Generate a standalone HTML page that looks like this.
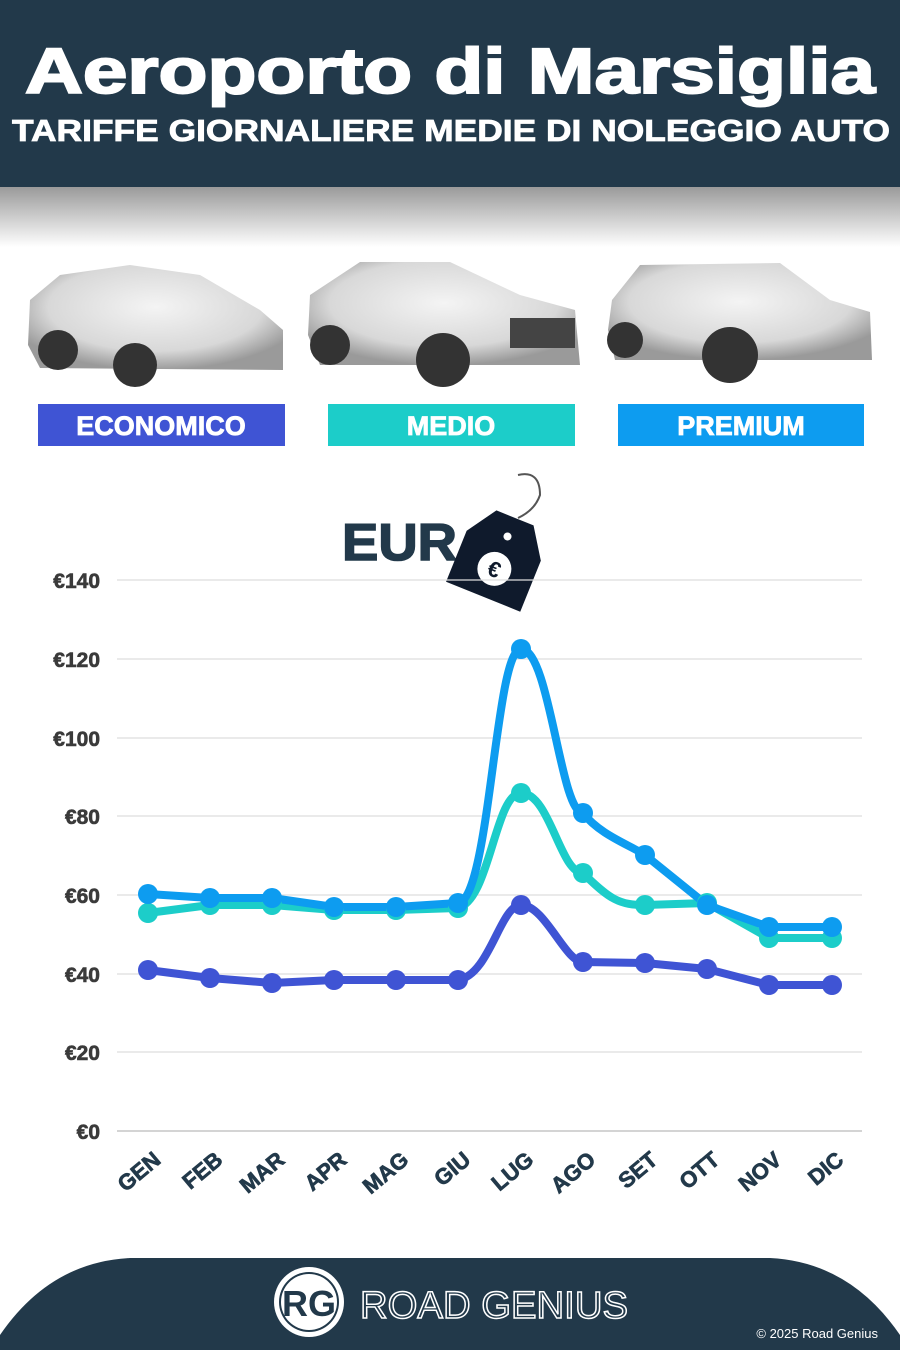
<!DOCTYPE html>
<html><head><meta charset="utf-8"><style>
body{margin:0;width:900px;height:1350px;overflow:hidden;background:#fff;font-family:"Liberation Sans",sans-serif}
</style></head><body>
<svg width="900" height="1350" viewBox="0 0 900 1350" xmlns="http://www.w3.org/2000/svg">
<defs>
<linearGradient id="sh" x1="0" y1="0" x2="0" y2="1"><stop offset="0" stop-color="#9a9a9a"/><stop offset="1" stop-color="#fff"/></linearGradient>
<radialGradient id="car" cx="0.5" cy="0.4" r="0.6"><stop offset="0" stop-color="#f4f4f4"/><stop offset="0.7" stop-color="#d8d8d8"/><stop offset="1" stop-color="#9a9a9a"/></radialGradient>
</defs>
<rect x="0" y="0" width="900" height="187" fill="#22394a"/>
<rect x="0" y="187" width="900" height="60" fill="url(#sh)"/>
<text x="25" y="93" textLength="850" lengthAdjust="spacingAndGlyphs" font-size="64" font-weight="bold" fill="#fff" stroke="#fff" stroke-width="2">Aeroporto di Marsiglia</text>
<text x="12" y="141" textLength="878" lengthAdjust="spacingAndGlyphs" font-size="31" font-weight="bold" fill="#fff" stroke="#fff" stroke-width="0.8">TARIFFE GIORNALIERE MEDIE DI NOLEGGIO AUTO</text>
<!-- cars -->
<g>
<path d="M30 300 L60 275 L130 265 L200 275 L260 310 L283 330 L283 370 L40 368 L28 345 Z" fill="url(#car)"/>
<circle cx="58" cy="350" r="20" fill="#333"/><circle cx="135" cy="365" r="22" fill="#333"/>
<path d="M310 295 L360 262 L450 262 L520 295 L575 310 L580 365 L320 365 L308 335 Z" fill="url(#car)"/>
<circle cx="330" cy="345" r="20" fill="#333"/><circle cx="443" cy="360" r="27" fill="#333"/><rect x="510" y="318" width="65" height="30" fill="#444"/>
<path d="M612 300 L640 265 L780 263 L830 300 L870 312 L872 360 L615 360 L608 330 Z" fill="url(#car)"/>
<circle cx="625" cy="340" r="18" fill="#333"/><circle cx="730" cy="355" r="28" fill="#333"/>
</g>
<rect x="38" y="404" width="247" height="42" fill="#3f54d4"/>
<text x="161" y="435" text-anchor="middle" font-size="27" font-weight="bold" fill="#fff" stroke="#fff" stroke-width="0.8">ECONOMICO</text>
<rect x="328" y="404" width="247" height="42" fill="#1ccdc9"/>
<text x="451" y="435" text-anchor="middle" font-size="27" font-weight="bold" fill="#fff" stroke="#fff" stroke-width="0.8">MEDIO</text>
<rect x="618" y="404" width="246" height="42" fill="#0d9cf0"/>
<text x="741" y="435" text-anchor="middle" font-size="27" font-weight="bold" fill="#fff" stroke="#fff" stroke-width="0.8">PREMIUM</text>
<!-- EUR tag -->
<text x="342" y="560" textLength="115" lengthAdjust="spacingAndGlyphs" font-size="52" font-weight="bold" fill="#22394a" stroke="#22394a" stroke-width="1.5">EUR</text>
<path d="M518 475 Q540 470 540 495 Q535 510 518 518" fill="none" stroke="#555" stroke-width="2"/>
<g transform="rotate(22 500 555)"><path d="M480 515 L520 515 L540 545 L540 600 L460 600 L460 545 Z" fill="#0f1a2c"/><circle cx="500" cy="535" r="4" fill="#fff"/><circle cx="500" cy="570" r="17" fill="#fff"/><text x="500" y="578" text-anchor="middle" font-size="22" font-weight="bold" fill="#0f1a2c">€</text></g>
<!-- grid -->
<g stroke="#ddd" stroke-width="1.2">
<line x1="117" x2="862" y1="580" y2="580"/><line x1="117" x2="862" y1="659" y2="659"/><line x1="117" x2="862" y1="738" y2="738"/><line x1="117" x2="862" y1="816" y2="816"/><line x1="117" x2="862" y1="895" y2="895"/><line x1="117" x2="862" y1="974" y2="974"/><line x1="117" x2="862" y1="1052" y2="1052"/><line x1="117" x2="862" y1="1131" y2="1131" stroke="#bbb"/>
</g>
<g font-size="21" font-weight="bold" fill="#3a3a3a" stroke="#3a3a3a" stroke-width="0.6" text-anchor="end">
<text x="100" y="588">€140</text><text x="100" y="667">€120</text><text x="100" y="746">€100</text><text x="100" y="824">€80</text><text x="100" y="903">€60</text><text x="100" y="982">€40</text><text x="100" y="1060">€20</text><text x="100" y="1139">€0</text>
</g>
<g font-size="22" font-weight="bold" fill="#22394a" stroke="#22394a" stroke-width="0.7" text-anchor="end">
<text transform="translate(162 1162) rotate(-40)">GEN</text>
<text transform="translate(224 1162) rotate(-40)">FEB</text>
<text transform="translate(286 1162) rotate(-40)">MAR</text>
<text transform="translate(348 1162) rotate(-40)">APR</text>
<text transform="translate(410 1162) rotate(-40)">MAG</text>
<text transform="translate(472 1162) rotate(-40)">GIU</text>
<text transform="translate(535 1162) rotate(-40)">LUG</text>
<text transform="translate(597 1162) rotate(-40)">AGO</text>
<text transform="translate(659 1162) rotate(-40)">SET</text>
<text transform="translate(721 1162) rotate(-40)">OTT</text>
<text transform="translate(783 1162) rotate(-40)">NOV</text>
<text transform="translate(845 1162) rotate(-40)">DIC</text>
</g>
<g fill="none" stroke-width="8" stroke-linejoin="round" stroke-linecap="round">
<path stroke="#1ccdc9" d="M148 913 L210 905 L272 905 L334 910 L396 910 L458 908 C490 900 495 793 521 793 C550 793 560 873 583 873 C610 900 620 905 645 905 L707 903 L769 938 L832 938"/>
<path stroke="#0d9cf0" d="M148 894 L210 898 L272 898 L334 907 L396 907 L458 903 C490 900 495 649 521 649 C550 649 560 813 583 813 C600 835 630 845 645 855 L707 905 L769 927 L832 927"/>
<path stroke="#3f54d4" d="M148 970 L210 978 L272 983 L334 980 L396 980 L458 980 C490 975 500 905 521 905 C545 905 565 962 583 962 L645 963 L707 969 L769 985 L832 985"/>
</g>
<g fill="#1ccdc9"><circle cx="148" cy="913" r="10"/><circle cx="210" cy="905" r="10"/><circle cx="272" cy="905" r="10"/><circle cx="334" cy="910" r="10"/><circle cx="396" cy="910" r="10"/><circle cx="458" cy="908" r="10"/><circle cx="521" cy="793" r="10"/><circle cx="583" cy="873" r="10"/><circle cx="645" cy="905" r="10"/><circle cx="707" cy="903" r="10"/><circle cx="769" cy="938" r="10"/><circle cx="832" cy="938" r="10"/></g>
<g fill="#0d9cf0"><circle cx="148" cy="894" r="10"/><circle cx="210" cy="898" r="10"/><circle cx="272" cy="898" r="10"/><circle cx="334" cy="907" r="10"/><circle cx="396" cy="907" r="10"/><circle cx="458" cy="903" r="10"/><circle cx="521" cy="649" r="10"/><circle cx="583" cy="813" r="10"/><circle cx="645" cy="855" r="10"/><circle cx="707" cy="905" r="10"/><circle cx="769" cy="927" r="10"/><circle cx="832" cy="927" r="10"/></g>
<g fill="#3f54d4"><circle cx="148" cy="970" r="10"/><circle cx="210" cy="978" r="10"/><circle cx="272" cy="983" r="10"/><circle cx="334" cy="980" r="10"/><circle cx="396" cy="980" r="10"/><circle cx="458" cy="980" r="10"/><circle cx="521" cy="905" r="10"/><circle cx="583" cy="962" r="10"/><circle cx="645" cy="963" r="10"/><circle cx="707" cy="969" r="10"/><circle cx="769" cy="985" r="10"/><circle cx="832" cy="985" r="10"/></g>
<!-- footer -->
<path d="M0 1350 L0 1335 Q50 1262 130 1258 L770 1258 Q850 1262 900 1335 L900 1350 Z" fill="#22394a"/>
<circle cx="309" cy="1302" r="35" fill="#fff"/><circle cx="309" cy="1302" r="30" fill="#22394a"/><circle cx="309" cy="1302" r="28" fill="#fff"/>
<text x="309" y="1316" text-anchor="middle" font-size="36" font-weight="bold" fill="#22394a">RG</text>
<text x="360" y="1318" textLength="268" lengthAdjust="spacingAndGlyphs" font-size="38" fill="none" stroke="#fff" stroke-width="1.5">ROAD GENIUS</text>
<text x="878" y="1338" text-anchor="end" font-size="13" fill="#fff">© 2025 Road Genius</text>
</svg>
</body></html>
